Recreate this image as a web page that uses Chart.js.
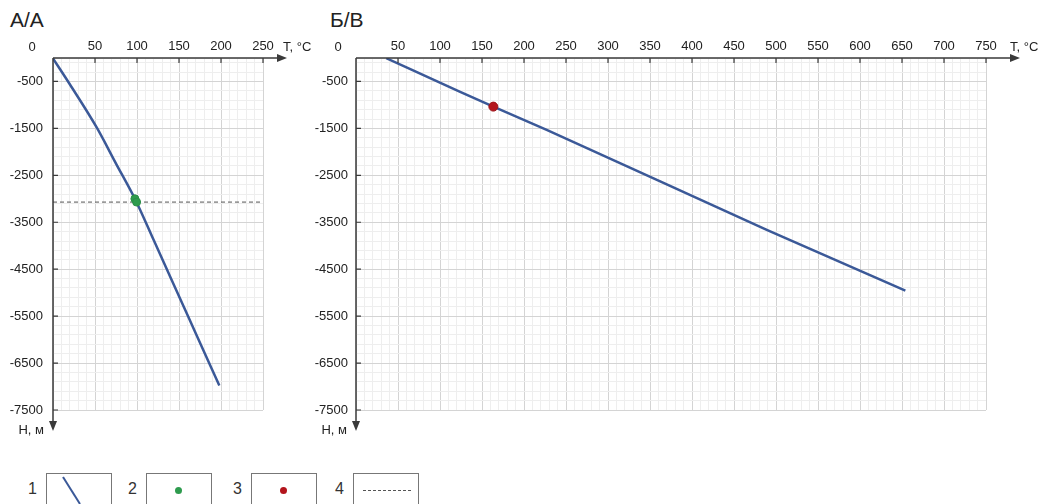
<!DOCTYPE html>
<html>
<head>
<meta charset="utf-8">
<script src="https://cdn.jsdelivr.net/npm/chart.js@4.4.0/dist/chart.umd.min.js"></script>
<style>
  body { margin: 0; background: #fff; width: 1047px; height: 504px; overflow: hidden; position: relative;
         font-family: "Liberation Sans", Arial, sans-serif; color: #222; }
  .title { position: absolute; top: 8px; font-size: 21px; }
  #wrapA { position: absolute; left: 0; top: 0; width: 330px; height: 450px; }
  #wrapB { position: absolute; left: 300px; top: 0; width: 747px; height: 450px; }
  .lg { position: absolute; top: 473px; width: 66px; height: 40px; border: 1px solid #777; box-sizing: border-box; }
  .lgn { position: absolute; top: 480px; font-size: 16px; color: #333; }
  .dot { position: absolute; left: 28px; top: 13px; width: 7px; height: 7px; border-radius: 50%; }
  .dash { position: absolute; left: 9px; top: 16px; width: 48px; border-top: 1px dashed #555; }
</style>
</head>
<body>
<div class="title" style="left:10px">А/А</div>
<div class="title" style="left:330px">Б/В</div>
<div id="wrapA"><canvas id="chartA"></canvas></div>
<div id="wrapB"><canvas id="chartB"></canvas></div>

<div class="lgn" style="left:28px">1</div>
<div class="lg" style="left:46px"><svg width="66" height="40"><line x1="16" y1="3" x2="33" y2="30" stroke="#3b5998" stroke-width="2"/></svg></div>
<div class="lgn" style="left:128px">2</div>
<div class="lg" style="left:146px"><div class="dot" style="background:#2e9b4e"></div></div>
<div class="lgn" style="left:233px">3</div>
<div class="lg" style="left:251px"><div class="dot" style="background:#b3141c"></div></div>
<div class="lgn" style="left:335px">4</div>
<div class="lg" style="left:353px"><div class="dash"></div></div>

<script>
// axis ticks
const xMajorA = [0, 50, 100, 150, 200, 250];
const xMajorB = [0, 50, 100, 150, 200, 250, 300, 350, 400, 450, 500, 550, 600, 650, 700, 750];
const yMajor = [-500, -1500, -2500, -3500, -4500, -5500, -6500, -7500];
const xMinorStep = 10, yMinorStep = 200;
const yMin = -7500, yMax = 0;

// А/А profile
const curveTA = [0, 20, 52, 75, 98.6, 120, 141, 170, 198];
const curveHA = [-10, -560, -1480, -2250, -3040, -3885, -4720, -5870, -6980];
const greenT = [97.5, 99.5];
const greenH = [-3000, -3070];
const dashedHA = -3070;

// Б/В profile
const curveTB = [36, 124, 163.5, 227, 489, 654];
const curveHB = [-5, -720, -1036, -1530, -3660, -4955];
const redT = [163.5];
const redH = [-1036];

const FONT = '"Liberation Sans", Arial, sans-serif';
const MAJOR = '#d4d4d4', MINOR = '#eeeeee';

function pts(xs, ys) { return xs.map((v, i) => ({ x: v, y: ys[i] })); }

const yMinor = [];
for (let v = yMin; v < yMax; v += yMinorStep) yMinor.push(v);
yMinor.push(yMax);

const axesPlugin = {
  id: 'axes',
  afterDraw(chart, args, o) {
    const { ctx, chartArea: a, scales: { x, y } } = chart;
    const tipX = a.right + o.tipDX, tipY = a.bottom + 21;
    ctx.save();
    ctx.strokeStyle = '#3a3a3a'; ctx.fillStyle = '#3a3a3a'; ctx.lineWidth = 1.5;
    ctx.beginPath();
    ctx.moveTo(a.left, a.top); ctx.lineTo(tipX - 8, a.top);
    ctx.moveTo(a.left, a.top); ctx.lineTo(a.left, tipY - 8);
    ctx.stroke();
    ctx.beginPath(); ctx.moveTo(tipX, a.top); ctx.lineTo(tipX - 10, a.top - 4); ctx.lineTo(tipX - 10, a.top + 4); ctx.closePath(); ctx.fill();
    ctx.beginPath(); ctx.moveTo(a.left, tipY); ctx.lineTo(a.left - 4, tipY - 10); ctx.lineTo(a.left + 4, tipY - 10); ctx.closePath(); ctx.fill();
    // small tick marks
    ctx.lineWidth = 1.2;
    ctx.beginPath();
    o.xMajor.forEach(v => { if (v === 0) return; const px = x.getPixelForValue(v); ctx.moveTo(px, a.top); ctx.lineTo(px, a.top + 5); });
    yMajor.forEach(v => { const py = y.getPixelForValue(v); ctx.moveTo(a.left, py); ctx.lineTo(a.left + 5, py); });
    ctx.stroke();
    // corner / axis names
    ctx.font = '13px ' + FONT; ctx.fillStyle = '#222'; ctx.textBaseline = 'middle';
    ctx.textAlign = 'center'; ctx.fillText('0', a.left - o.zeroDX, a.top - 11);
    ctx.textAlign = 'left'; ctx.fillText('T, °C', a.right + o.labelDX, a.top - 11);
    ctx.textAlign = 'right'; ctx.fillText('Н, м', a.left - 9, tipY - 1);
    ctx.restore();
  }
};

function makeChart(id, cfg) {
  const xMax = cfg.xMajor[cfg.xMajor.length - 1];
  const xMinor = [];
  for (let v = 0; v <= xMax; v += xMinorStep) xMinor.push(v);
  return new Chart(document.getElementById(id), {
    type: 'scatter',
    data: { datasets: cfg.datasets },
    options: {
      responsive: true, maintainAspectRatio: false, animation: false, events: [],
      layout: { padding: { left: 0, top: 0, right: cfg.padRight, bottom: 40 } },
      plugins: { legend: { display: false }, tooltip: { enabled: false },
        axes: { xMajor: cfg.xMajor, tipDX: cfg.tipDX, labelDX: cfg.labelDX, zeroDX: cfg.zeroDX } },
      scales: {
        x: {
          type: 'linear', position: 'top', min: 0, max: xMax,
          afterBuildTicks: s => { s.ticks = xMinor.map(v => ({ value: v })); },
          afterFit: s => { s.height = 58; },
          border: { display: false },
          grid: { drawTicks: false, lineWidth: 1, color: c => cfg.xMajor.includes(c.tick.value) ? MAJOR : MINOR },
          ticks: { autoSkip: false, maxRotation: 0, minRotation: 0, padding: 4, color: '#222', font: { family: FONT, size: 13 },
                   callback: v => (v !== 0 && cfg.xMajor.includes(v)) ? String(v) : '' }
        },
        y: {
          type: 'linear', min: yMin, max: yMax,
          afterBuildTicks: s => { s.ticks = yMinor.map(v => ({ value: v })); },
          afterFit: s => { s.width = cfg.yWidth; },
          border: { display: false },
          grid: { drawTicks: false, lineWidth: 1, color: c => yMajor.includes(c.tick.value) ? MAJOR : MINOR },
          ticks: { autoSkip: false, padding: cfg.yPad, color: '#222', font: { family: FONT, size: 13 },
                   callback: v => yMajor.includes(v) ? String(v) : '' }
        }
      }
    },
    plugins: [axesPlugin]
  });
}

const xMaxA = xMajorA[xMajorA.length - 1];

makeChart('chartA', {
  xMajor: xMajorA, padRight: 67, yWidth: 53, yPad: 10, tipDX: 24, labelDX: 20, zeroDX: 21,
  datasets: [
    { data: pts(greenT, greenH), pointRadius: 4, pointBackgroundColor: '#2e9b4e', pointBorderColor: '#2a8e47', pointBorderWidth: 1, order: 0 },
    { data: pts(curveTA, curveHA), showLine: true, cubicInterpolationMode: 'monotone', borderColor: '#3b5998', borderWidth: 2.5, pointRadius: 0, order: 1 },
    { data: pts([0, xMaxA], [dashedHA, dashedHA]), showLine: true, borderColor: '#555', borderWidth: 1, borderDash: [4, 3], pointRadius: 0, order: 2 }
  ]
});

makeChart('chartB', {
  xMajor: xMajorB, padRight: 61, yWidth: 56, yPad: 8, tipDX: 34, labelDX: 24, zeroDX: 18,
  datasets: [
    { data: pts(redT, redH), pointRadius: 4.5, pointBackgroundColor: '#b3141c', pointBorderColor: '#9c1118', pointBorderWidth: 1, order: 0 },
    { data: pts(curveTB, curveHB), showLine: true, cubicInterpolationMode: 'monotone', borderColor: '#3b5998', borderWidth: 2.5, pointRadius: 0, order: 1 }
  ]
});
</script>
</body>
</html>
